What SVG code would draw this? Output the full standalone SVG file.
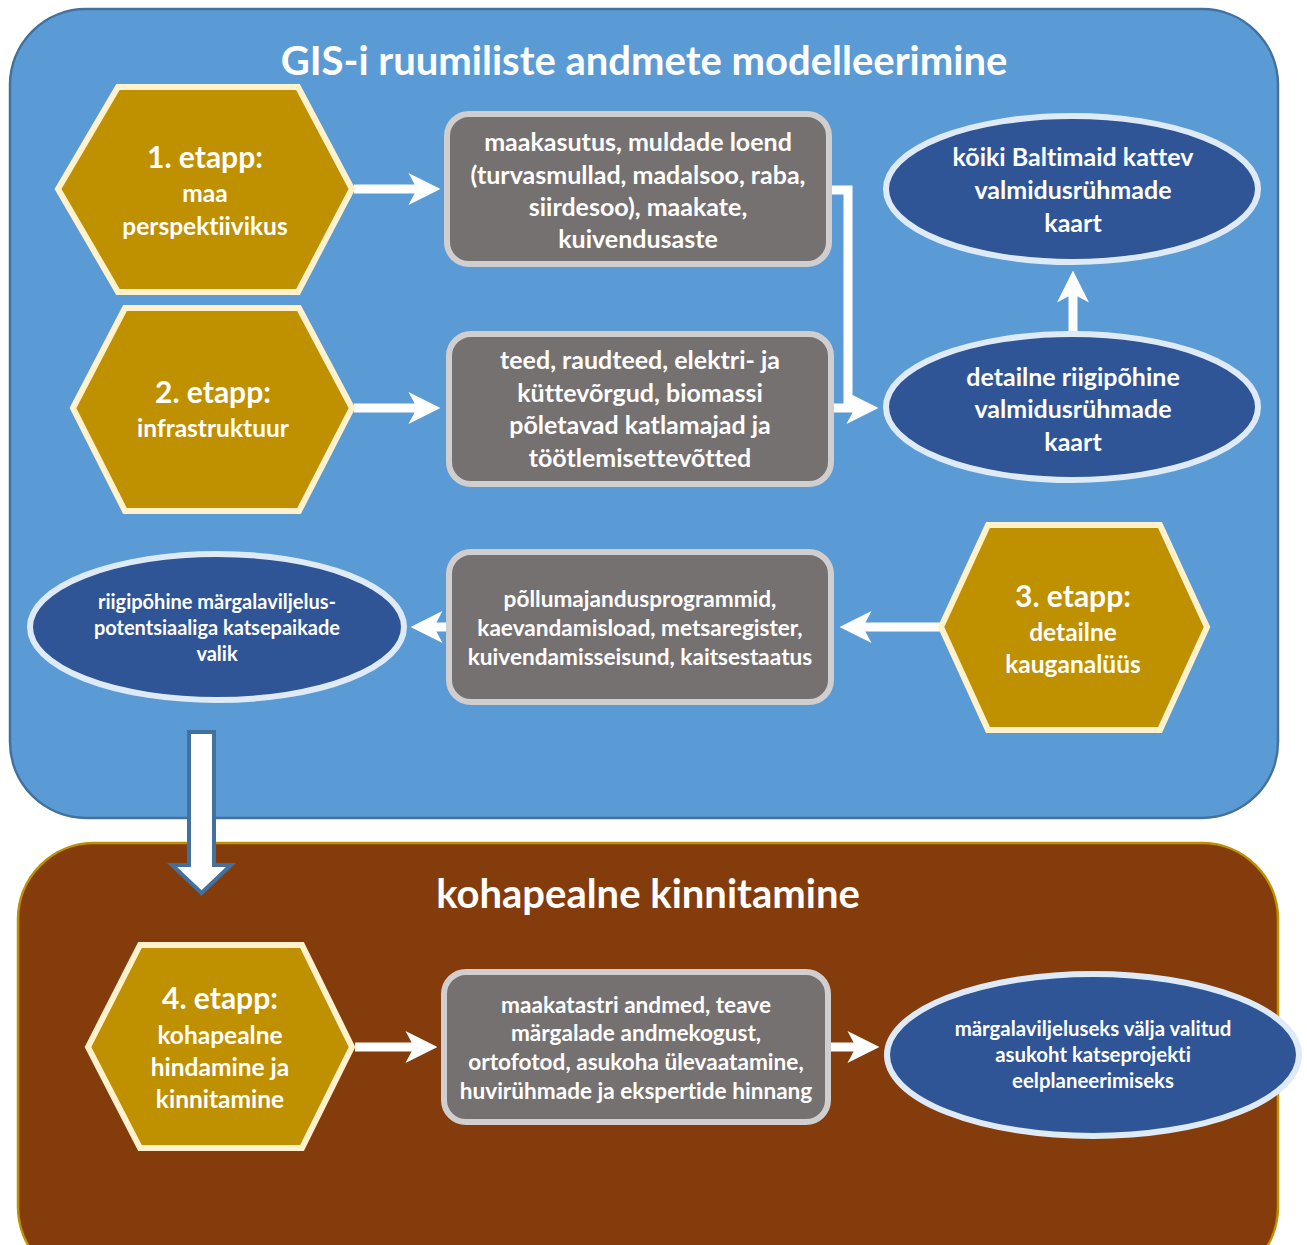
<svg xmlns="http://www.w3.org/2000/svg" width="1307" height="1245" viewBox="0 0 1307 1245">
<defs>
<style>
text{font-family:Lato,"Liberation Sans",sans-serif;font-weight:bold;fill:#fff;text-anchor:middle;font-variant-ligatures:none}
.title{font-size:40px}
.h1{font-size:30px}
.h2{font-size:24.5px}
.b{font-size:25px}
.b2{font-size:22.6px}
.e{font-size:25px}
.e3{font-size:20px}
.e4{font-size:20.4px}
.hex{fill:#BF9000;stroke:#FFF2CC;stroke-width:6}
.box{fill:#767171;stroke:#D0CECE;stroke-width:6}
.ell{fill:#2F5597;stroke:#DEEBF7;stroke-width:6}
.con{fill:none;stroke:#fff;stroke-width:9}
</style>
<marker id="ah" markerUnits="userSpaceOnUse" markerWidth="32" markerHeight="32" viewBox="0 0 30 30" refX="8" refY="15" orient="auto">
<path d="M0,0 L30,15 L0,30 L8,15 Z" fill="#fff"/>
</marker>
</defs>
<g id="panel-gis">
<rect x="10" y="9" width="1268" height="809" rx="76" ry="76" fill="#5B9BD5" stroke="#41719C" stroke-width="2.5"/>
<text class="title" x="644" y="75">GIS-i ruumiliste andmete modelleerimine</text>
</g>
<g id="panel-field">
<rect x="18" y="843" width="1260" height="440" rx="76" ry="76" fill="#843C0C" stroke="#BF9000" stroke-width="2.5"/>
<text class="title" x="648" y="908">kohapealne kinnitamine</text>
</g>
<g id="connectors">
<path class="con" d="M354,189 H417" marker-end="url(#ah)"/>
<path class="con" d="M354,408 H417" marker-end="url(#ah)"/>
<path class="con" d="M829,190 H848 V408"/>
<path class="con" d="M831,408 H855" marker-end="url(#ah)"/>
<path class="con" d="M1073,333 V294" marker-end="url(#ah)"/>
<path class="con" d="M940,627 H863" marker-end="url(#ah)"/>
<path class="con" d="M449,627 H434" marker-end="url(#ah)"/>
<path class="con" d="M355,1047 H414" marker-end="url(#ah)"/>
<path class="con" d="M828,1047 H856" marker-end="url(#ah)"/>
<path d="M189,732 H214 V865 H231 L201.5,893 L172,865 H189 Z" fill="#fff" stroke="#41719C" stroke-width="4" stroke-linejoin="miter"/>
</g>
<g id="stage1">
<polygon class="hex" points="58,189 118,87 298,87 352,189 298,292 118,292"/>
<text class="h1" x="205" y="168">1. etapp:</text>
<text class="h2" x="205" y="202">maa</text>
<text class="h2" x="205" y="235">perspektiivikus</text>
</g>
<g id="stage2">
<polygon class="hex" points="73,408 125,308 299,308 352,408 299,511 125,511"/>
<text class="h1" x="213" y="403">2. etapp:</text>
<text class="h2" x="213" y="437">infrastruktuur</text>
</g>
<g id="data1">
<rect class="box" x="447" y="114" width="382" height="150" rx="22"/>
<text class="b" x="638" y="151">maakasutus, muldade loend</text>
<text class="b" x="638" y="184">(turvasmullad, madalsoo, raba,</text>
<text class="b" x="638" y="216">siirdesoo), maakate,</text>
<text class="b" x="638" y="248">kuivendusaste</text>
</g>
<g id="data2">
<rect class="box" x="449" y="334" width="382" height="150" rx="22"/>
<text class="b" x="640" y="369">teed, raudteed, elektri- ja</text>
<text class="b" x="640" y="402">küttevõrgud, biomassi</text>
<text class="b" x="640" y="434">põletavad katlamajad ja</text>
<text class="b" x="640" y="467">töötlemisettevõtted</text>
</g>
<g id="map-baltic">
<ellipse class="ell" cx="1072" cy="189" rx="186" ry="73"/>
<text class="e" x="1073" y="166">kõiki Baltimaid kattev</text>
<text class="e" x="1073" y="199">valmidusrühmade</text>
<text class="e" x="1073" y="232">kaart</text>
</g>
<g id="map-national">
<ellipse class="ell" cx="1072" cy="407" rx="186" ry="73"/>
<text class="e" x="1073" y="386">detailne riigipõhine</text>
<text class="e" x="1073" y="418">valmidusrühmade</text>
<text class="e" x="1073" y="451">kaart</text>
</g>
<g id="stage3">
<polygon class="hex" points="941,627 988,525 1160,525 1207,627 1160,730 988,730"/>
<text class="h1" x="1073" y="607">3. etapp:</text>
<text class="h2" x="1073" y="641">detailne</text>
<text class="h2" x="1073" y="673">kauganalüüs</text>
</g>
<g id="data3">
<rect class="box" x="449" y="552" width="382" height="150" rx="22"/>
<text class="b2" x="640" y="607">põllumajandusprogrammid,</text>
<text class="b2" x="640" y="636">kaevandamisload, metsaregister,</text>
<text class="b2" x="640" y="665">kuivendamisseisund, kaitsestaatus</text>
</g>
<g id="site-selection">
<ellipse class="ell" cx="217" cy="627" rx="187" ry="73"/>
<text class="e3" x="217" y="609">riigipõhine märgalaviljelus-</text>
<text class="e3" x="217" y="635">potentsiaaliga katsepaikade</text>
<text class="e3" x="217" y="661">valik</text>
</g>
<g id="stage4">
<polygon class="hex" points="88,1047 140,945 302,945 352,1047 302,1148 140,1148"/>
<text class="h1" x="220" y="1009">4. etapp:</text>
<text class="h2" x="220" y="1044">kohapealne</text>
<text class="h2" x="220" y="1076">hindamine ja</text>
<text class="h2" x="220" y="1108">kinnitamine</text>
</g>
<g id="data4">
<rect class="box" x="444" y="972" width="384" height="150" rx="22"/>
<text class="b2" x="636" y="1013">maakatastri andmed, teave</text>
<text class="b2" x="636" y="1041">märgalade andmekogust,</text>
<text class="b2" x="636" y="1070">ortofotod, asukoha ülevaatamine,</text>
<text class="b2" x="636" y="1099">huvirühmade ja ekspertide hinnang</text>
</g>
<g id="pilot-site">
<ellipse class="ell" cx="1093" cy="1055" rx="206" ry="81"/>
<text class="e4" x="1093" y="1036">märgalaviljeluseks välja valitud</text>
<text class="e4" x="1093" y="1062">asukoht katseprojekti</text>
<text class="e4" x="1093" y="1088">eelplaneerimiseks</text>
</g>
</svg>
